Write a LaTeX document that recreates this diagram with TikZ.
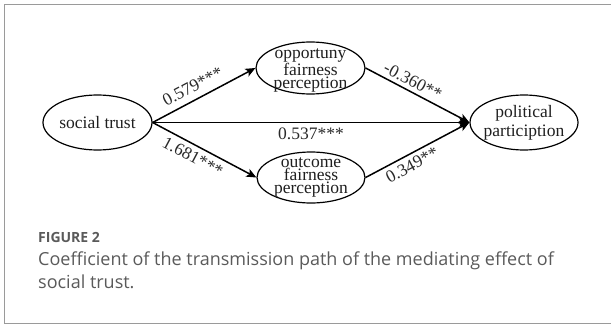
\documentclass[tikz,border=0pt]{standalone}
\usepackage{fontspec}
\setmainfont{Liberation Serif}
\newfontfamily\capfont{Open Sans}
\usetikzlibrary{shapes.geometric,arrows.meta}
\definecolor{framegray}{HTML}{9A9A9A}
\definecolor{capgray}{HTML}{5A5A5A}
\definecolor{labgray}{HTML}{2A2A2A}
\begin{document}
\begin{tikzpicture}[x=1pt,y=-1pt,
  ell/.style={draw=black, line width=1.2pt, ellipse, inner sep=0pt},
  etext/.style={font=\fontsize{17.5}{13}\selectfont, align=center, inner sep=0pt, text=black!88},
  conn/.style={line width=1.5pt, -{Stealth[length=10pt,width=8.5pt,inset=2.5pt]}},
  coef/.style={font=\fontsize{17.5}{17}\selectfont, text=labgray, sloped, inner sep=2pt},
  capbody/.style={anchor=base west, font=\capfont\fontsize{18}{23}\selectfont, text=capgray, inner sep=0pt},
]
\useasboundingbox (0,0) rectangle (611,324);
\draw[framegray, line width=1pt] (616,4) -- (4,4) -- (4,323) -- (616,323);

\node[ell, minimum width=109pt, minimum height=55pt] (st) at (97.5,122.5) {};
\node[etext] (stt) at (st.center) {social trust};

\node[ell, minimum width=109pt, minimum height=52pt] (opp) at (310.5,68) {};
\node[etext] (oppt) at (310.5,70) {opportuny\\fairness\\perception};

\node[ell, minimum width=108pt, minimum height=51pt] (out) at (311,177.5) {};
\node[etext] (outt) at (311,177.5) {outcome\\fairness\\perception};

\node[ell, minimum width=108pt, minimum height=55pt] (pol) at (524,122.5) {};
\node[etext, font=\fontsize{17.5}{19}\selectfont] (polt) at (524,123) {political\\particiption};

\draw[conn] (st.east) -- node[coef, above=4.5pt, pos=.45] (l1) {0.579***} (opp.west);
\draw[conn] (st.east) -- node[coef, below=2.8pt, pos=.44] (l2) {1.681***} (out.west);
\draw[conn] (st.east) -- node[coef, below=3pt, pos=.5] (l3) {0.537***} (pol.west);
\draw[conn] (opp.east) -- node[coef, above=1.5pt, pos=.41] (l4) {-0.360**} (pol.west);
\draw[conn] (out.east) -- node[coef, below=2pt, pos=.40] (l5) {0.349**} (pol.west);

\node[anchor=base west, font=\capfont\bfseries\fontsize{14}{16}\selectfont, text=capgray, inner sep=0pt] (fig) at (38,242) {FIGURE 2};
\node[capbody] (cap1) at (38,265) {Coefficient of the transmission path of the mediating effect of};
\node[capbody] (cap2) at (38,288) {social trust.};
\end{tikzpicture}
\end{document}
